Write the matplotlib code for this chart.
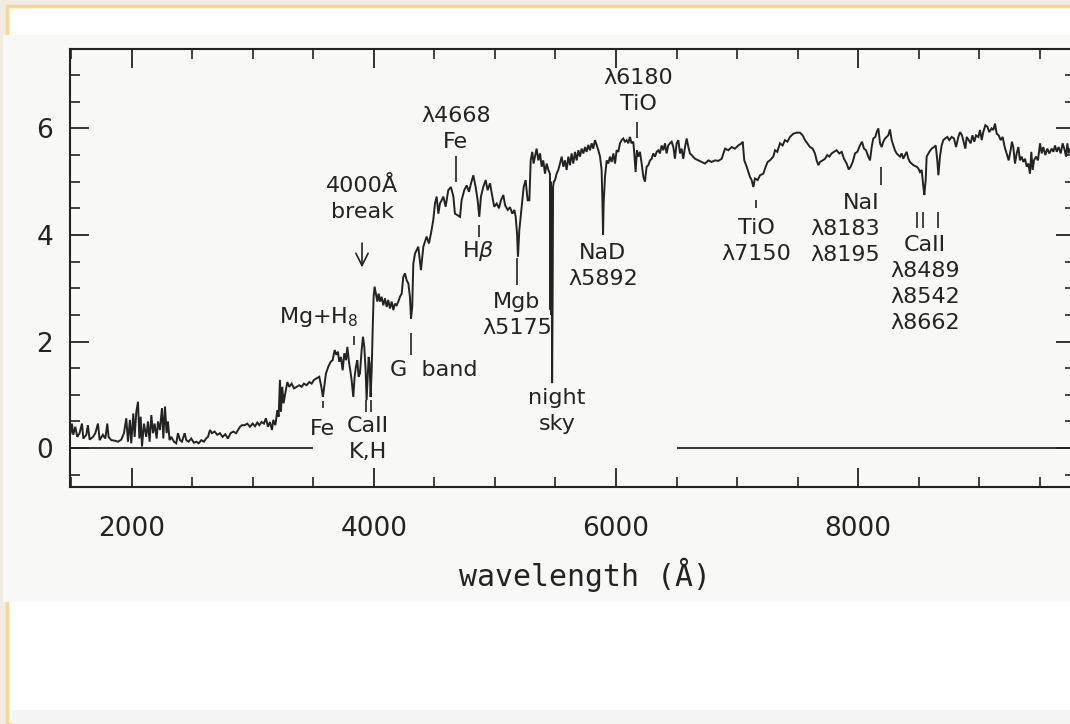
import matplotlib.pyplot as plt
from matplotlib.patches import Rectangle
from matplotlib.ticker import MultipleLocator

# spectrum: wavelength (A) and relative flux
wave = [1493, 1504, 1515, 1532, 1548, 1567, 1587, 1598, 1623, 1636, 1650, 1678, 1697, 1719, 1733,
        1760, 1780, 1796, 1807, 1829, 1857, 1884, 1912, 1934, 1953, 1967, 1983, 1994, 2011, 2022,
        2036, 2050, 2061, 2072, 2083, 2099, 2118, 2132, 2146, 2160, 2174, 2187, 2204, 2215, 2231,
        2248, 2259, 2273, 2286, 2297, 2311, 2325, 2347, 2366, 2380, 2397, 2413, 2435, 2449, 2468,
        2490, 2512, 2532, 2551, 2573, 2595, 2612, 2628, 2645, 2661, 2683, 2705, 2727, 2749, 2771,
        2793, 2815, 2837, 2860, 2876, 2893, 2909, 2931, 2953,
        2975, 2997, 3017, 3036, 3052, 3072, 3091, 3107, 3124, 3140, 3157, 3168, 3185, 3201, 3212,
        3223, 3231, 3242, 3253, 3267, 3284, 3300, 3320, 3339, 3361, 3383, 3402, 3421, 3443, 3466,
        3485, 3504, 3526, 3548, 3565, 3578, 3589, 3603, 3623, 3642, 3658, 3675, 3689, 3702, 3713,
        3727, 3741, 3755, 3769, 3780, 3793, 3804, 3815, 3829, 3840, 3851, 3862, 3873, 3884, 3898,
        3909, 3920, 3931, 3939, 3948, 3956, 3964, 3972, 3981, 3989, 3997, 4005, 4016, 4028, 4039,
        4050, 4063, 4077, 4091, 4105, 4118, 4132, 4146, 4160, 4173, 4187, 4201, 4215, 4229, 4242,
        4256, 4270, 4284, 4297, 4306, 4316, 4325,
        4339, 4366, 4388, 4408, 4435, 4454, 4471, 4490, 4504, 4518, 4532, 4545, 4559, 4573, 4592,
        4614, 4636, 4656, 4669, 4691, 4711, 4724, 4746, 4766, 4785, 4802, 4821, 4840, 4857, 4870,
        4884, 4903, 4923, 4939, 4959, 4978, 4994, 5014, 5033, 5049, 5069, 5083, 5105, 5124, 5143,
        5160, 5171, 5182, 5190, 5201, 5215, 5226, 5237, 5253, 5270, 5284, 5295, 5308, 5319, 5330,
        5344, 5358, 5372, 5386, 5399, 5413, 5427, 5441, 5454, 5457, 5461, 5464, 5468, 5472, 5476,
        5480, 5486,
        5496, 5509, 5523, 5537, 5551, 5565, 5578, 5592, 5606, 5620, 5633, 5647, 5661, 5675, 5689,
        5702, 5716, 5730, 5744, 5757, 5771, 5785, 5799, 5812, 5826, 5840, 5854, 5868, 5881, 5888,
        5893, 5898, 5909, 5923, 5936, 5950, 5964, 5978, 5992, 6005, 6019, 6033, 6047, 6060, 6074,
        6088, 6102, 6115, 6129, 6143, 6151, 6162, 6173, 6184, 6198, 6212, 6226, 6239, 6253, 6267,
        6281, 6295, 6308, 6322, 6336, 6350, 6363, 6377, 6391, 6405, 6418, 6432, 6446, 6460, 6474,
        6487, 6501, 6515, 6529, 6542, 6556, 6570, 6584, 6598, 6611, 6625, 6653, 6680, 6708, 6735,
        6763, 6790, 6818, 6846, 6873, 6901, 6928, 6956, 6983, 7011, 7038, 7047, 7060, 7080, 7107,
        7121, 7135, 7148, 7171, 7190, 7217, 7237, 7253, 7272, 7300, 7314, 7333, 7355, 7377, 7396,
        7416, 7438, 7465, 7493, 7520, 7542, 7562, 7581, 7603, 7625, 7644, 7658, 7672, 7686, 7708,
        7727, 7746, 7763, 7782, 7801, 7823, 7845, 7865, 7884, 7906, 7923, 7939, 7956, 7975, 7994,
        8016, 8033, 8049, 8066, 8085, 8099, 8113, 8126, 8143, 8154, 8168, 8182, 8195, 8209, 8223,
        8237, 8250, 8264, 8278, 8292, 8305, 8319, 8333, 8347, 8361, 8374, 8388, 8402, 8416, 8429,
        8443, 8457, 8485, 8498, 8512, 8526, 8540, 8548, 8559, 8567, 8589, 8608, 8628, 8642, 8655,
        8664, 8677, 8691, 8705, 8719, 8738, 8754, 8774, 8793, 8810, 8829, 8843, 8859, 8876, 8887,
        8898, 8914, 8931, 8945, 8961, 8975, 8994, 9008, 9022, 9035, 9052, 9069, 9085, 9104, 9118,
        9132, 9146, 9162, 9179, 9195, 9212, 9228, 9245, 9261, 9272, 9283, 9297, 9311, 9325, 9338,
        9352, 9366, 9380, 9394, 9407, 9421, 9432, 9443, 9454, 9471, 9487, 9504, 9518, 9531, 9548,
        9564, 9581, 9600, 9614, 9628, 9642, 9658, 9675, 9691, 9708, 9719, 9730, 9741, 9752, 9770,
        9790]
flux = [0.28, 0.46, 0.25, 0.40, 0.21, 0.28, 0.46, 0.18, 0.25, 0.43, 0.16, 0.21, 0.28, 0.46, 0.15,
        0.25, 0.18, 0.46, 0.21, 0.15, 0.14, 0.12, 0.16, 0.28, 0.56, 0.12, 0.53, 0.09, 0.65, 0.21,
        0.68, 0.87, 0.18, 0.59, 0.03, 0.46, 0.21, 0.50, 0.12, 0.62, 0.28, 0.46, 0.18, 0.50, 0.34,
        0.75, 0.18, 0.78, 0.28, 0.50, 0.15, 0.21, 0.12, 0.09, 0.28, 0.15, 0.12, 0.28, 0.15, 0.12,
        0.18, 0.10, 0.12, 0.09, 0.15, 0.12, 0.18, 0.21, 0.34, 0.28, 0.31, 0.25, 0.28, 0.21, 0.26,
        0.18, 0.28, 0.31, 0.28, 0.34, 0.40, 0.43, 0.43, 0.46,
        0.40, 0.46, 0.41, 0.48, 0.43, 0.49, 0.46, 0.56, 0.40, 0.49, 0.34, 0.53, 0.43, 0.71, 0.59,
        1.28, 0.68, 1.15, 0.84, 1.03, 1.24, 1.15, 1.21, 1.12, 1.15, 1.18, 1.15, 1.21, 1.18, 1.24,
        1.21, 1.28, 1.31, 1.34, 1.15, 0.96, 1.15, 1.40, 1.53, 1.62, 1.65, 1.84, 1.75, 1.81, 1.62,
        1.71, 1.46, 1.78, 1.65, 1.90, 1.62, 1.46, 1.28, 0.96, 1.34, 1.53, 1.65, 1.34, 1.40, 1.84,
        2.09, 1.90, 1.46, 0.90, 1.34, 1.71, 1.59, 0.96, 1.46, 2.21, 2.84, 3.03, 2.90, 2.75, 2.90,
        2.75, 2.84, 2.68, 2.81, 2.65, 2.78, 2.62, 2.75, 2.59, 2.71, 2.68, 2.75, 2.84, 2.90, 3.21,
        3.28, 3.15, 3.09, 2.84, 2.43, 2.65, 3.46,
        3.65, 3.78, 3.34, 3.78, 3.97, 3.84, 4.03, 4.28, 4.59, 4.72, 4.40, 4.59, 4.65, 4.72, 4.53,
        4.84, 4.90, 4.72, 4.40, 4.37, 4.34, 4.65, 4.84, 4.93, 4.81, 4.97, 5.12, 4.90, 4.65, 4.34,
        4.72, 4.90, 5.03, 4.84, 4.97, 4.72, 4.53, 4.59, 4.50, 4.65, 4.75, 4.56, 4.47, 4.52, 4.40,
        4.47, 4.34, 4.03, 3.59, 4.09, 4.40, 4.65, 4.90, 5.03, 4.65, 4.65, 5.40, 5.56, 5.34, 5.47,
        5.62, 5.40, 5.53, 5.28, 5.40, 5.15, 5.34, 5.22, 5.15, 2.60, 5.00, 2.50, 4.90, 1.22, 2.70,
        4.90, 5.00,
        5.03, 5.15, 5.22, 5.34, 5.47, 5.28, 5.40, 5.22, 5.47, 5.31, 5.53, 5.34, 5.56, 5.40, 5.59,
        5.47, 5.62, 5.53, 5.65, 5.56, 5.69, 5.59, 5.72, 5.62, 5.78, 5.69, 5.59, 5.47, 5.22, 4.60,
        4.00, 4.60, 5.09, 5.40, 5.34, 5.47, 5.37, 5.53, 5.34, 5.59, 5.56, 5.72, 5.78, 5.81, 5.75,
        5.78, 5.72, 5.84, 5.72, 5.75, 5.53, 5.18, 5.59, 5.47, 5.56, 5.34, 5.09, 5.00, 5.28, 5.31,
        5.40, 5.43, 5.53, 5.47, 5.56, 5.59, 5.53, 5.68, 5.59, 5.72, 5.53, 5.68, 5.72, 5.75, 5.65,
        5.43, 5.72, 5.78, 5.53, 5.62, 5.43, 5.65, 5.81, 5.65, 5.53, 5.50, 5.43, 5.40, 5.37, 5.34,
        5.40, 5.37, 5.40, 5.39, 5.43, 5.62, 5.59, 5.65, 5.62, 5.68, 5.72, 5.75, 5.40, 5.28, 5.09,
        5.03, 4.90, 5.06, 5.03, 5.12, 5.15, 5.28, 5.37, 5.40, 5.47, 5.59, 5.56, 5.72, 5.68, 5.78,
        5.75, 5.84, 5.90, 5.92, 5.92, 5.87, 5.78, 5.72, 5.65, 5.62, 5.53, 5.40, 5.31, 5.37, 5.40,
        5.43, 5.50, 5.47, 5.53, 5.56, 5.59, 5.53, 5.56, 5.43, 5.34, 5.23, 5.28, 5.37, 5.53, 5.56,
        5.68, 5.75, 5.62, 5.59, 5.47, 5.40, 5.65, 5.81, 5.84, 5.93, 6.00, 5.72, 5.65, 5.75, 5.81,
        5.84, 5.87, 5.98, 5.78, 5.68, 5.59, 5.53, 5.50, 5.47, 5.53, 5.43, 5.50, 5.56, 5.43, 5.37,
        5.34, 5.31, 5.28, 5.25, 5.18, 5.22, 4.90, 4.75, 5.03, 5.47, 5.56, 5.62, 5.65, 5.68, 5.40,
        5.12, 5.47, 5.68, 5.78, 5.81, 5.84, 5.78, 5.84, 5.81, 5.65, 5.84, 5.93, 5.87, 5.72, 5.62,
        5.84, 5.78, 5.72, 5.87, 5.75, 5.87, 5.84, 5.97, 5.78, 5.93, 6.06, 6.03, 5.93, 6.00, 5.97,
        6.09, 5.90, 5.87, 5.78, 5.84, 5.65, 5.53, 5.40, 5.59, 5.75, 5.65, 5.34, 5.53, 5.65, 5.40,
        5.47, 5.37, 5.43, 5.28, 5.34, 5.15, 5.56, 5.22, 5.40, 5.47, 5.40, 5.72, 5.53, 5.65, 5.50,
        5.62, 5.53, 5.62, 5.56, 5.68, 5.56, 5.65, 5.53, 5.72, 5.59, 5.47, 5.72, 5.53, 5.62, 5.58,
        5.62]

# zero level drawn in two pieces
zero_start = [1488, 6500]
zero_end = [3500, 9800]

# short marker lines under/over the features: wavelength, lower and upper flux
mark_wave = [3578, 3835, 3934, 3975, 4306, 4677, 4868, 5182, 6173, 7157, 8190, 8487, 8537, 8661]
mark_lo = [0.75, 1.93, 0.68, 0.68, 1.74, 4.99, 3.96, 3.06, 5.82, 4.50, 4.93, 4.13, 4.13, 4.13]
mark_hi = [0.89, 2.10, 0.90, 0.90, 2.16, 5.48, 4.18, 3.56, 6.12, 4.65, 5.27, 4.43, 4.43, 4.43]

label_text = ['4000Å\nbreak', 'Mg+H$_8$', 'Fe', 'CaII\nK,H', 'G  band', 'λ4668\nFe', 'H$\\beta$',
              'Mgb\nλ5175', 'night\nsky', 'NaD\nλ5892', 'λ6180\nTiO', 'TiO\nλ7150',
              'NaI\nλ8183\nλ8195', 'CaII\nλ8489\nλ8542\nλ8662']
label_wave = [3901, 3545, 3578, 3950, 4496, 4677, 4859, 5182, 5512, 5892, 6182, 7157, 8181, 8553]
label_flux = [4.67, 2.46, 0.36, 0.17, 1.46, 5.99, 3.70, 2.50, 0.70, 3.41, 6.70, 3.88, 4.11, 3.08]
label_ha = ['center'] * 12 + ['right', 'center']

ink = '#232323'

fig = plt.figure(figsize=(10.7, 7.24), dpi=100, facecolor='#f1ece2')
# scanned page look
fig.add_artist(Rectangle((7 / 1070, 0), 1.0, 718 / 724, transform=fig.transFigure,
                         facecolor='white', edgecolor='#f8d890', lw=2.5, zorder=0))
fig.add_artist(Rectangle((3 / 1070, 122 / 724), 1.0, 567 / 724, transform=fig.transFigure,
                         facecolor='#f8f8f7', edgecolor='none', zorder=0))
fig.add_artist(Rectangle((12 / 1070, 0), 1.0, 14 / 724, transform=fig.transFigure,
                         facecolor='#f4f4f2', edgecolor='none', zorder=0))

ax = fig.add_axes([70 / 1070, 237 / 724, 1005 / 1070, 438 / 724])
ax.patch.set_visible(False)

ax.plot(wave, flux, color=ink, lw=1.4, solid_joinstyle='miter')
ax.hlines([0, 0], zero_start, zero_end, color=ink, lw=1.3)
ax.vlines(mark_wave, mark_lo, mark_hi, color=ink, lw=1.2)

for t, x, y, ha in zip(label_text, label_wave, label_flux, label_ha):
    ax.text(x, y, t, ha=ha, va='center', multialignment=ha, fontsize=16,
            color=ink, linespacing=1.37)

ax.annotate('', xy=(3901, 3.34), xytext=(3901, 3.90),
            arrowprops=dict(arrowstyle='->', color=ink, lw=1.2, mutation_scale=22))

ax.set_xlim(1488, 9793)
ax.set_ylim(-0.73, 7.49)
ax.xaxis.set_major_locator(MultipleLocator(2000))
ax.xaxis.set_minor_locator(MultipleLocator(500))
ax.yaxis.set_major_locator(MultipleLocator(2))
ax.yaxis.set_minor_locator(MultipleLocator(0.5))
ax.tick_params(which='both', direction='in', top=True, right=True, color=ink, labelcolor=ink)
ax.tick_params(which='major', length=14, width=1.3, labelsize=19)
ax.tick_params(which='minor', length=7.5, width=1.2)
ax.tick_params(axis='x', pad=21)
ax.tick_params(axis='y', pad=12)
for s in ax.spines.values():
    s.set_color(ink)
    s.set_linewidth(1.5)

ax.set_xlabel('wavelength (Å)', fontsize=21.5, family='DejaVu Sans Mono', color=ink, va='center')
ax.xaxis.set_label_coords(0.512, -0.201)

fig.savefig('out.png', dpi=100, facecolor=fig.get_facecolor())
